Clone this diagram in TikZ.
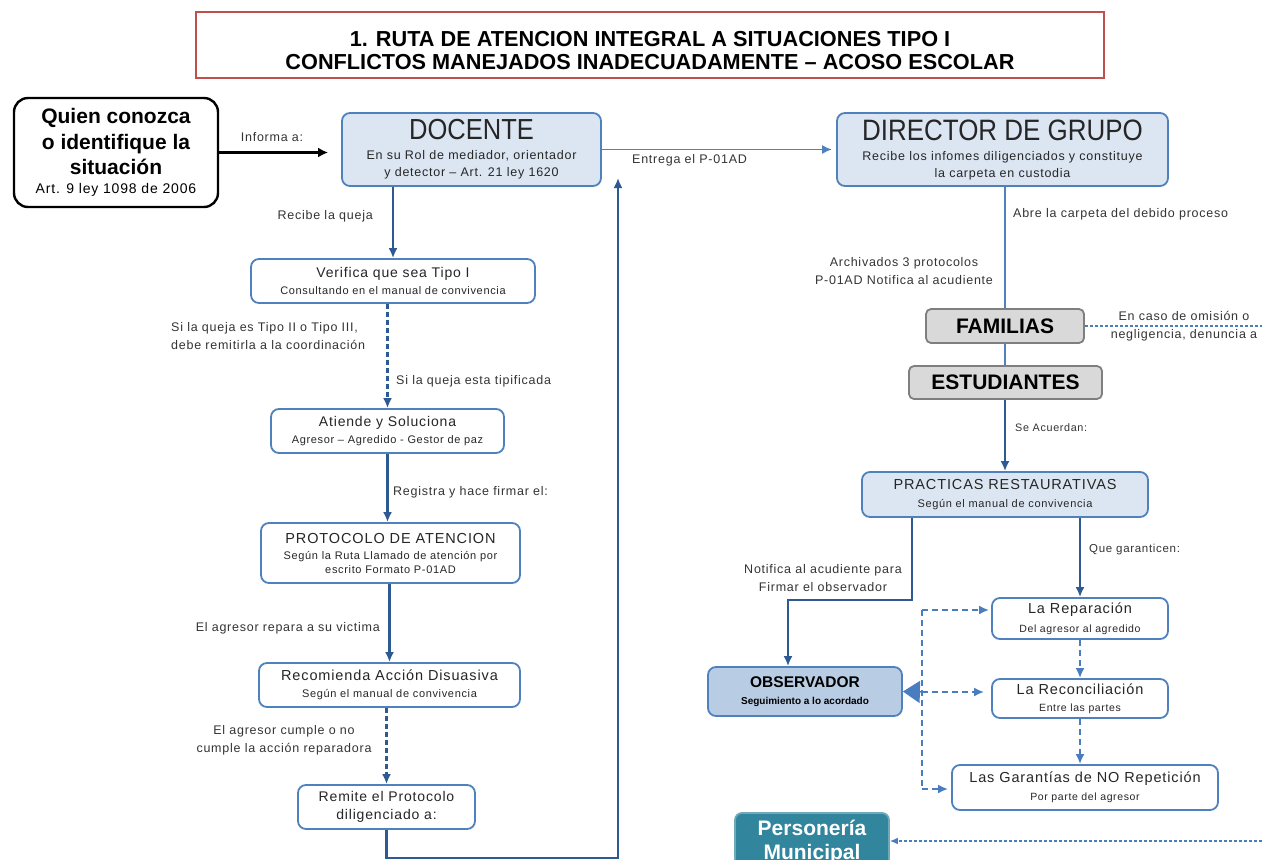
\documentclass[tikz,border=0pt]{standalone}
\usepackage{fontspec}
\setmainfont{Liberation Sans}[LetterSpace=6]
\newfontfamily\hdfont{Liberation Sans}
\newfontfamily\narrowfont{Liberation Sans}[FakeStretch=0.88]
\usetikzlibrary{arrows.meta}
\definecolor{boxblue}{HTML}{4F81BD}
\definecolor{lightblue}{HTML}{DCE6F2}
\definecolor{obsblue}{HTML}{B8CCE4}
\definecolor{flowblue}{HTML}{2E5A93}
\definecolor{softblue}{HTML}{4A7CC0}
\definecolor{boxgray}{HTML}{D9D9D9}
\definecolor{edgegray}{HTML}{7F7F7F}
\definecolor{titlered}{HTML}{C0504D}
\definecolor{teal}{HTML}{31859C}
\definecolor{txtgray}{HTML}{333333}
\begin{document}
\begin{tikzpicture}[
        x=1pt, y=-1pt,
        every node/.style={text=txtgray, align=center, inner sep=0pt},
        box/.style={draw=boxblue, line width=1.8pt, rounded corners=8pt, fill=white, text=black!85},
        bluebox/.style={box, fill=lightblue},
        graybox/.style={draw=edgegray, line width=1.8pt, rounded corners=5pt, fill=boxgray, text=black,
            font=\hdfont\bfseries\fontsize{21}{21}\selectfont},
        titlebox/.style={draw=titlered, line width=2.6pt, fill=white, text=black,
            font=\hdfont\bfseries\fontsize{21.7}{23}\selectfont},
        lbl/.style={font=\fontsize{12.5}{18}\selectfont},
        arr/.style={draw=flowblue, line width=2.4pt, -{Latex[length=10pt,width=9pt]}},
        dasharr/.style={arr, dash pattern=on 5pt off 3pt},
        thinline/.style={draw=boxblue, line width=1.8pt},
        thinarr/.style={thinline, -{Latex[length=10pt,width=9pt]}},
        blkarr/.style={draw=black, line width=2.6pt, -{Latex[length=10pt,width=10pt]}},
        softdash/.style={draw=softblue, line width=2pt, dash pattern=on 6pt off 4pt},
        softarr/.style={softdash, -{Latex[length=10pt,width=9pt]}},
        finedash/.style={draw=softblue, line width=1.4pt, dash pattern=on 3pt off 2pt},
    ]
    \useasboundingbox (0,0) rectangle (1262,860);

    \node[titlebox, minimum width=908pt, minimum height=66pt](titulo) at (650,45)
        {\rule{0pt}{27pt}1. RUTA DE ATENCION INTEGRAL A SITUACIONES TIPO I\\CONFLICTOS MANEJADOS INADECUADAMENTE – ACOSO ESCOLAR};

    \node[draw=black, line width=2.4pt, rounded corners=14pt, minimum width=204pt, minimum height=109pt, text=black,
        font=\hdfont\bfseries\fontsize{21}{25.5}\selectfont](quien) at (116,152.5)
        {Quien conozca\\o identifique la\\situación\\[-7pt]{\normalfont\fontsize{14}{14}\selectfont Art. 9 ley 1098 de 2006}};
    \node[bluebox, minimum width=259pt, minimum height=73pt, font=\fontsize{12.5}{17}\selectfont](docente) at (471.5,149.5)
        {{\narrowfont\fontsize{29}{29}\selectfont DOCENTE}\\[3pt]En su Rol de mediador, orientador\\y detector – Art. 21 ley 1620};
    \node[bluebox, minimum width=331pt, minimum height=73pt, font=\fontsize{12.5}{17}\selectfont](director) at (1002.5,149.5)
        {{\narrowfont\fontsize{29.5}{29}\selectfont DIRECTOR DE GRUPO}\\[3pt]Recibe los infomes diligenciados y constituye\\la carpeta en custodia};

    \node[box, minimum width=284pt, minimum height=44pt, font=\fontsize{11}{17}\selectfont](verifica) at (393,281)
        {{\fontsize{14}{14}\selectfont Verifica que sea Tipo I}\\Consultando en el manual de convivencia};
    \node[box, minimum width=233pt, minimum height=44pt, font=\fontsize{11}{17}\selectfont](atiende) at (387.5,431)
        {{\fontsize{14}{14}\selectfont Atiende y Soluciona}\\Agresor – Agredido - Gestor de paz};
    \node[box, minimum width=259pt, minimum height=60pt, font=\fontsize{11}{14}\selectfont](protocolo) at (390.5,553)
        {{\fontsize{14.5}{14}\selectfont PROTOCOLO DE ATENCION}\\[2pt]Según la Ruta Llamado de atención por\\escrito Formato P-01AD};
    \node[box, minimum width=261pt, minimum height=44pt, font=\fontsize{11}{17}\selectfont](recomienda) at (389.5,685)
        {{\fontsize{14.5}{14}\selectfont Recomienda Acción Disuasiva}\\Según el manual de convivencia};
    \node[box, minimum width=177pt, minimum height=44pt, font=\fontsize{14}{18}\selectfont](remite) at (386.5,807)
        {Remite el Protocolo\\diligenciado a:};

    \node[graybox, minimum width=158pt, minimum height=34pt](familias) at (1005,326) {FAMILIAS};
    \node[graybox, minimum width=193pt, minimum height=33pt](estudiantes) at (1005.5,382.5) {ESTUDIANTES};
    \node[bluebox, minimum width=286pt, minimum height=45pt, font=\fontsize{11}{18.5}\selectfont](practicas) at (1005,494.5)
        {{\fontsize{14.5}{14}\selectfont PRACTICAS RESTAURATIVAS}\\Según el manual de convivencia};
    \node[box, minimum width=176pt, minimum height=41pt, font=\fontsize{10.5}{19}\selectfont](reparacion) at (1080,618.5)
        {{\fontsize{14.5}{14}\selectfont La Reparación}\\Del agresor al agredido};
    \node[box, minimum width=176pt, minimum height=39pt, font=\fontsize{10.5}{17}\selectfont](reconciliacion) at (1080,698.5)
        {{\fontsize{14.5}{14}\selectfont La Reconciliación}\\Entre las partes};
    \node[box, minimum width=266pt, minimum height=45pt, font=\fontsize{10.5}{18}\selectfont](garantias) at (1085,787.5)
        {{\fontsize{14.5}{14}\selectfont Las Garantías de NO Repetición}\\Por parte del agresor};
    \node[box, fill=obsblue, minimum width=194pt, minimum height=49pt, text=black,
        font=\hdfont\bfseries\fontsize{10}{17}\selectfont](observador) at (805,691.5)
        {{\fontsize{15.5}{15}\selectfont OBSERVADOR}\\Seguimiento a lo acordado};
    \node[draw=teal!70!white, line width=1.8pt, fill=teal, rounded corners=7pt, minimum width=154pt, minimum height=58pt,
        text=white, font=\hdfont\bfseries\fontsize{21}{24}\selectfont](personeria) at (812,842)
        {Personería\\Municipal};

    \node[lbl](informa) at (272,137) {Informa a:};
    \node[lbl, anchor=east](recibe) at (373,216) {Recibe la queja};
    \node[lbl, anchor=west](entrega) at (632,160) {Entrega el P-01AD};
    \node[lbl, anchor=west](abre) at (1013,214) {Abre la carpeta del debido proceso};
    \node[lbl](archivados) at (904,271) {Archivados 3 protocolos\\P-01AD Notifica al acudiente};
    \node[lbl](omision) at (1184,326) {En caso de omisión o\\negligencia, denuncia a};
    \node[lbl, align=left, anchor=west](tipodos) at (171,336) {Si la queja es Tipo II o Tipo III,\\debe remitirla a la coordinación};
    \node[lbl, anchor=west](tipificada) at (396,381) {Si la queja esta tipificada};
    \node[lbl, anchor=west](registra) at (393,492) {Registra y hace firmar el:};
    \node[lbl, anchor=east](repara) at (380,628) {El agresor repara a su victima};
    \node[lbl](cumple) at (284,740) {El agresor cumple o no\\cumple la acción reparadora};
    \node[lbl, font=\fontsize{10.8}{18}\selectfont, anchor=west](acuerdan) at (1015,428) {Se Acuerdan:};
    \node[lbl, font=\fontsize{11.5}{18}\selectfont, anchor=west](garanticen) at (1089,550) {Que garanticen:};
    \node[lbl](notifica) at (823,578) {Notifica al acudiente para\\Firmar el observador};

    \coordinate (ret) at (618,178);
    \coordinate (retbot) at (618,858);
    \coordinate (nf) at (912,600);
    \coordinate (bustop) at (922,610);
    \coordinate (busmid) at (922,692);
    \coordinate (busbot) at (922,789);
    \coordinate (fright) at (1262,326);
    \coordinate (pright) at (1262,841);

    \draw[blkarr, shorten >=13pt] (quien.east) -- (quien.east -| docente.west);
    \draw[thinarr, shorten >=4pt] (docente.east) -- (director.west);
    \draw[arr] (docente.south -| verifica.north) -- (verifica.north);
    \draw[dasharr] (verifica.south -| atiende.north) -- (atiende.north);
    \draw[arr] (atiende.south) -- (atiende.south |- protocolo.north);
    \draw[arr] (recomienda.north |- protocolo.south) -- (recomienda.north);
    \draw[dasharr] (recomienda.south -| remite.north) -- (remite.north);
    \draw[arr] (remite.south) |- (retbot) -- (ret);

    \draw[thinline] (familias.north |- director.south) -- (familias.north);
    \draw[thinline] (familias.south) -- (familias.south |- estudiantes.north);
    \draw[finedash] (familias.east) -- (fright);
    \draw[arr] (estudiantes.south -| practicas.north) -- (practicas.north);
    \draw[arr] (nf |- practicas.south) -- (nf) -| ([xshift=-17pt]observador.north);
    \draw[arr] (reparacion.north |- practicas.south) -- (reparacion.north);
    \draw[softarr] (reparacion.south) -- (reparacion.south |- reconciliacion.north);
    \draw[softarr] (reconciliacion.south) -- (reconciliacion.south |- garantias.north);
    \draw[softdash] (bustop) -- (busbot);
    \draw[softarr, shorten >=2pt] (bustop) -- (bustop -| reparacion.west);
    \draw[softarr, shorten >=7pt] (busmid) -- (busmid -| reconciliacion.west);
    \draw[softarr, shorten >=3pt] (busbot) -- (busbot -| garantias.west);
    \draw[draw=softblue, line width=1.5pt, -{Triangle[length=17pt,width=22pt]}] (busmid) -- (observador.east);
    \draw[finedash, -{Latex[length=8pt,width=7pt]}] (pright) -- (pright -| personeria.east);
\end{tikzpicture}
\end{document}
